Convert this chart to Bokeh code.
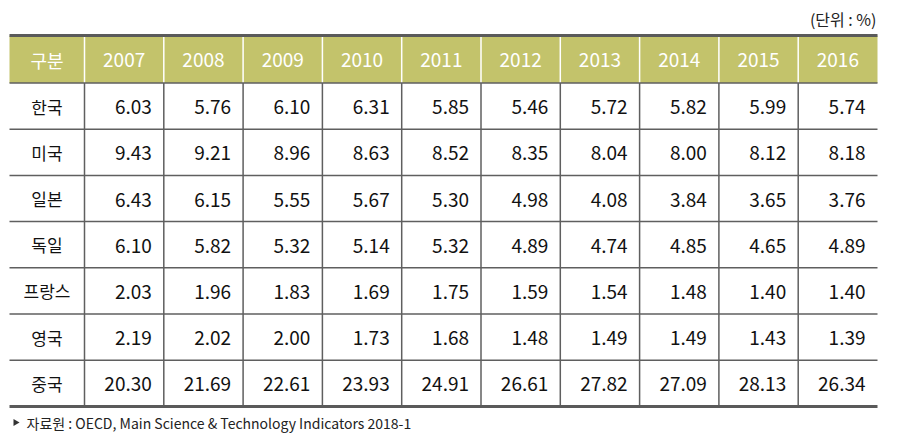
from bokeh.plotting import figure
from bokeh.models import Range1d, ColumnDataSource
from bokeh.core.properties import value
from bokeh.embed import file_html
from bokeh.resources import INLINE

# ---- data ----
header_label = "구분"
years = ["2007", "2008", "2009", "2010", "2011", "2012", "2013", "2014", "2015", "2016"]
countries = ["한국", "미국", "일본", "독일", "프랑스", "영국", "중국"]
korea = [6.03, 5.76, 6.10, 6.31, 5.85, 5.46, 5.72, 5.82, 5.99, 5.74]
usa = [9.43, 9.21, 8.96, 8.63, 8.52, 8.35, 8.04, 8.00, 8.12, 8.18]
japan = [6.43, 6.15, 5.55, 5.67, 5.30, 4.98, 4.08, 3.84, 3.65, 3.76]
germany = [6.10, 5.82, 5.32, 5.14, 5.32, 4.89, 4.74, 4.85, 4.65, 4.89]
france = [2.03, 1.96, 1.83, 1.69, 1.75, 1.59, 1.54, 1.48, 1.40, 1.40]
uk = [2.19, 2.02, 2.00, 1.73, 1.68, 1.48, 1.49, 1.49, 1.43, 1.39]
china = [20.30, 21.69, 22.61, 23.93, 24.91, 26.61, 27.82, 27.09, 28.13, 26.34]
rows = [korea, usa, japan, germany, france, uk, china]
unit_label = "(단위 : %)"
source_label = "자료원 : OECD, Main Science & Technology Indicators 2018-1"

# ---- layout (page pixel coordinates) ----
X0 = 9.0
LABEL_W = 75.0
COL_W = 79.3
X1 = X0 + LABEL_W + COL_W * len(years)
Y_TOP = 35.0
Y_HEAD = 82.5
ROW_H = 46.2
Y_BOT = Y_HEAD + ROW_H * len(countries)

KFONT = value("Noto Sans CJK KR")
NFONT = value("Noto Sans CJK KR")

p = figure(width=900, height=440, output_backend="svg", toolbar_location=None,
           x_range=Range1d(0, 900), y_range=Range1d(440, 0), min_border=0)
p.axis.visible = False
p.grid.visible = False
p.outline_line_color = None
p.background_fill_color = "white"
p.border_fill_color = "white"

# header band
p.quad(left=[X0], right=[X1], top=[Y_TOP], bottom=[Y_HEAD], fill_color="#C3C36B", line_color=None)

col_lefts = [X0 + LABEL_W + i * COL_W for i in range(len(years))]
col_centers = [c + COL_W / 2 for c in col_lefts]
col_rights = [c + COL_W for c in col_lefts]
row_centers = [Y_HEAD + ROW_H * (i + 0.5) for i in range(len(countries))]

# vertical separators: white in header, gray in body
p.segment(x0=col_lefts, y0=[Y_TOP] * len(col_lefts), x1=col_lefts, y1=[Y_HEAD] * len(col_lefts),
          line_color="white", line_width=1.5)
p.segment(x0=col_lefts, y0=[Y_HEAD] * len(col_lefts), x1=col_lefts, y1=[Y_BOT] * len(col_lefts),
          line_color="#5f5f5f", line_width=1.5)

# horizontal lines
inner_y = [Y_HEAD + ROW_H * i for i in range(len(countries))]
p.segment(x0=[X0] * len(inner_y), y0=inner_y, x1=[X1] * len(inner_y), y1=inner_y,
          line_color="#5f5f5f", line_width=1.5)
p.segment(x0=[X0, X0], y0=[Y_TOP, Y_BOT], x1=[X1, X1], y1=[Y_TOP, Y_BOT],
          line_color="#5a5a5a", line_width=3)

# header text
p.text(x=[X0 + LABEL_W / 2], y=[(Y_TOP + Y_HEAD) / 2 + 1], text=[header_label], text_color="white",
       text_font=KFONT, text_font_size="18px", text_align="center", text_baseline="middle")
p.text(x=col_centers, y=[(Y_TOP + Y_HEAD) / 2 + 1] * len(years), text=years, text_color="white",
       text_font=NFONT, text_font_size="19px", text_align="center", text_baseline="middle")

# row labels
p.text(x=[X0 + LABEL_W / 2] * len(countries), y=row_centers, text=countries, text_color="#111111",
       text_font=KFONT, text_font_size="17px", text_align="center", text_baseline="middle")

# values
xs, ys, ts = [], [], []
for r, vals in enumerate(rows):
    for c, v in enumerate(vals):
        xs.append(col_rights[c] - 12)
        ys.append(row_centers[r] + 1)
        ts.append(f"{v:.2f}")
src = ColumnDataSource(dict(x=xs, y=ys, t=ts))
p.text(x="x", y="y", text="t", source=src, text_color="#111111", text_font=NFONT,
       text_font_size="19px", text_align="right", text_baseline="middle")

# unit label
p.text(x=[X1 - 1], y=[18], text=[unit_label], text_color="#222222", text_font=KFONT,
       text_font_size="16px", text_align="right", text_baseline="middle")

# source note
p.scatter(x=[15], y=[422], marker="triangle", angle=-1.5708, size=7, fill_color="#333333", line_color=None)
p.text(x=[26], y=[422], text=[source_label], text_color="#222222", text_font=KFONT,
       text_font_size="14px", text_align="left", text_baseline="middle")

open("out.html", "w").write(file_html(p, INLINE))
